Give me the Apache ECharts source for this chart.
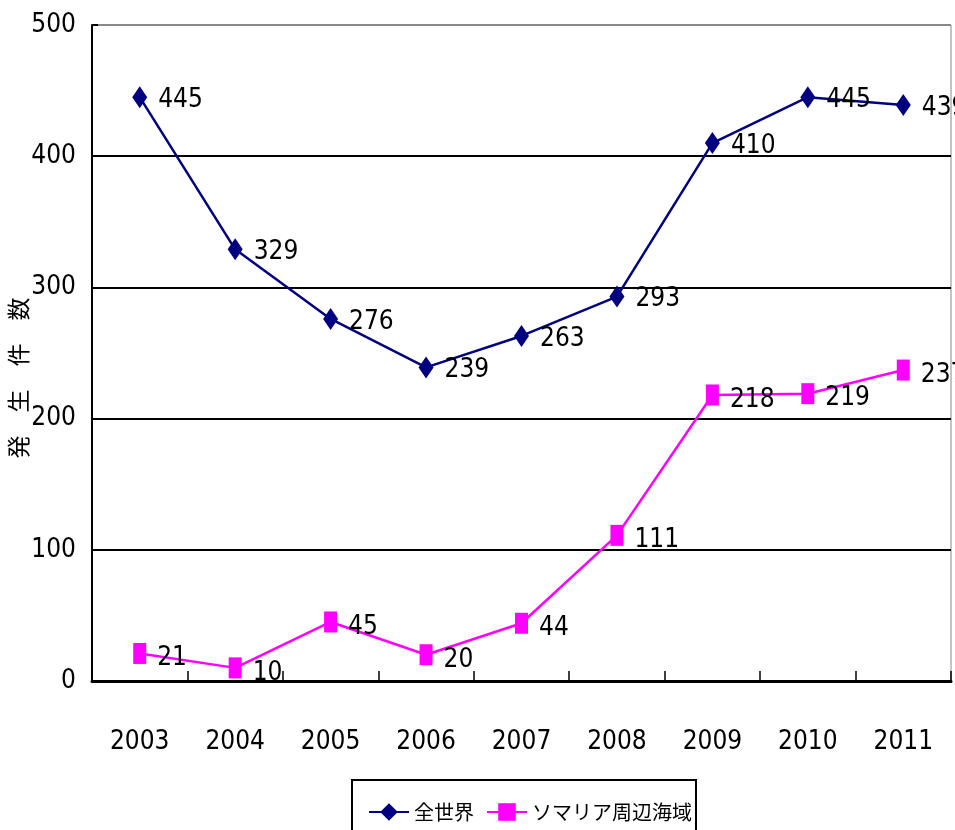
<!DOCTYPE html>
<html><head><meta charset="utf-8">
<script src="https://cdn.jsdelivr.net/npm/echarts@6/dist/echarts.min.js"></script>
<style>html,body{margin:0;padding:0;background:#fff}#c{width:955px;height:830px}</style>
</head><body><div id="c"></div>
<script>
const years = ['2003','2004','2005','2006','2007','2008','2009','2010','2011'];
const world = [445,329,276,239,263,293,410,445,439];
const somalia = [21,10,45,20,44,111,218,219,237];
const seriesNames = ['全世界','ソマリア周辺海域'];
const yTicks = [0,100,200,300,400,500];
const yName = '発\u3000生\u3000件\u3000数';

const numFont = '"DejaVu Sans Condensed","Liberation Sans Narrow",sans-serif';
const cjkFont = '"Noto Sans CJK JP",sans-serif';
const chart = echarts.init(document.getElementById('c'));
chart.setOption({
  animation:false,
  backgroundColor:'#fff',
  grid:{left:92,top:25,right:4,bottom:149,show:true,borderColor:'#888',borderWidth:1,outerBoundsMode:'none',containLabel:false},
  legend:{
    left:352, top:780, orient:'horizontal',
    borderColor:'#000', borderWidth:2, padding:[22,4,20,16],
    itemWidth:40, itemHeight:22, itemGap:12,
    textStyle:{fontFamily:cjkFont,fontSize:20,color:'#000'},
    data:seriesNames
  },
  xAxis:{
    type:'category', data:years, boundaryGap:true,
    axisLine:{lineStyle:{color:'#000',width:3}},
    axisTick:{show:true,inside:true,length:10,lineStyle:{color:'#000',width:1.5}},
    axisLabel:{fontFamily:numFont,fontSize:26,color:'#000',margin:48}
  },
  yAxis:{
    type:'value', min:yTicks[0], max:yTicks[yTicks.length-1], interval:100,
    name:yName, nameLocation:'middle', nameRotate:90, nameGap:62, nameMoveOverlap:false,
    nameTextStyle:{fontFamily:cjkFont,fontSize:23,color:'#000',padding:[0,50,0,0]},
    axisLine:{show:true,lineStyle:{color:'#000',width:2}},
    axisTick:{show:true,inside:true,length:6,lineStyle:{color:'#000',width:2}},
    axisLabel:{fontFamily:numFont,fontSize:26,color:'#000',margin:16},
    splitLine:{show:true,lineStyle:{color:['#000','#000','#000','#000','#000','#888'],width:2}}
  },
  series:[
    {name:seriesNames[0],type:'line',data:world,color:'#000080',
     symbol:'diamond',symbolSize:[15,22],
     lineStyle:{color:'#000080',width:2.5},itemStyle:{color:'#000080'},
     label:{show:true,position:'right',distance:11,offset:[0,3],fontFamily:numFont,fontSize:26,color:'#000'}},
    {name:seriesNames[1],type:'line',data:somalia,color:'#ff00ff',
     symbol:'rect',symbolSize:[13,21],
     lineStyle:{color:'#ff00ff',width:2.5},itemStyle:{color:'#ff00ff'},
     label:{show:true,position:'right',distance:11,offset:[0,5],fontFamily:numFont,fontSize:26,color:'#000'}}
  ]
});
</script></body></html>
